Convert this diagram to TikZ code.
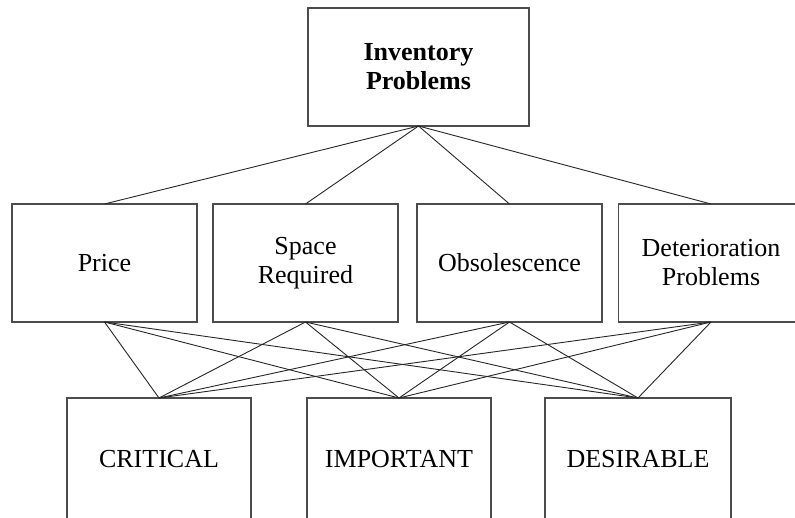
\documentclass[tikz,border=0pt]{standalone}
\usepackage{fontspec}
\setmainfont{Liberation Serif}
\begin{document}
\begin{tikzpicture}[x=1pt,y=-1pt,
  box/.style={draw=black!70,line width=1.3pt,fill=white,inner sep=0pt,outer sep=0pt,align=center,
    font=\fontsize{26}{29}\selectfont},
  link/.style={draw=black!85,line width=0.9pt}]
\useasboundingbox (0,0) rectangle (795,518);
\begin{scope}
\clip (0,0) rectangle (795,518);
\node[box,font=\fontsize{26}{29}\selectfont\bfseries,minimum width=221pt,minimum height=118pt] (top) at (418.5,67) {Inventory\\Problems};
\node[box,minimum width=185pt,minimum height=118pt] (price) at (104.5,263) {Price};
\node[box,minimum width=185pt,minimum height=118pt] (space) at (305.5,263) {Space\\Required};
\node[box,minimum width=185pt,minimum height=118pt] (obs) at (509.5,263) {Obsolescence};
\node[box,minimum width=185pt,minimum height=118pt] (det) at (711,263) {Deterioration\\Problems};
\node[box,minimum width=184pt,minimum height=122pt] (crit) at (159,459) {CRITICAL};
\node[box,minimum width=184pt,minimum height=122pt] (imp) at (399,459) {IMPORTANT};
\node[box,minimum width=186pt,minimum height=122pt] (des) at (638,459) {DESIRABLE};
\foreach \m in {price,space,obs,det}{
  \draw[link] (top.south) -- (\m.north);
  \foreach \b in {crit,imp,des}{
    \draw[link] (\m.south) -- (\b.north);
  }
}
\end{scope}
\end{tikzpicture}
\end{document}
